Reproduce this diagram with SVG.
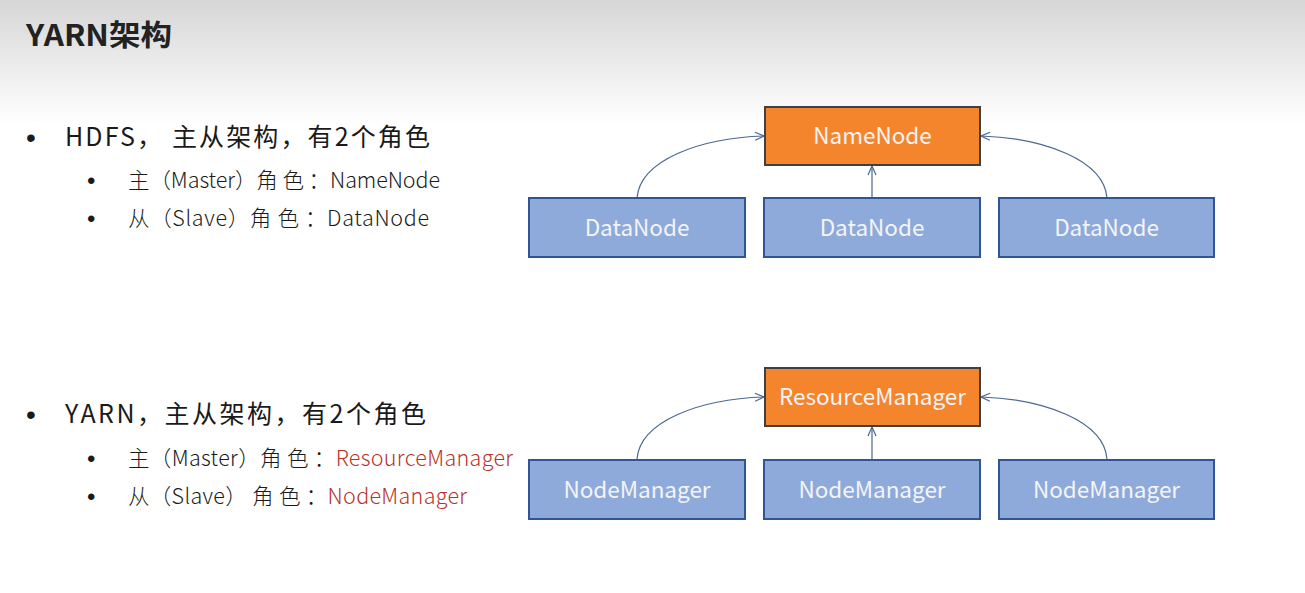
<svg xmlns="http://www.w3.org/2000/svg" width="1305" height="593" viewBox="0 0 1305 593">
<defs>
<linearGradient id="bg" x1="0" y1="0" x2="0" y2="1">
<stop offset="0" stop-color="#d6d6d6"/>
<stop offset="1" stop-color="#ffffff"/>
</linearGradient>
<marker id="arr" viewBox="0 0 10 10" refX="10" refY="5" markerWidth="10" markerHeight="10" markerUnits="userSpaceOnUse" orient="auto">
<path d="M1,1 L10,5 L1,9" fill="none" stroke="#4a6890" stroke-width="1.2"/>
</marker>
<style>
.title{font-family:"Noto Sans CJK SC","Liberation Sans",sans-serif;font-weight:bold;font-size:29px;fill:#222}
.l1{font-family:"Noto Sans CJK SC",sans-serif;font-size:25px;fill:#1a1a1a}
.l2{font-family:"Noto Sans CJK SC",sans-serif;font-weight:300;font-size:21.5px;fill:#1a1a1a}
.red{fill:#b8322a}
.dot{font-family:"Liberation Sans",sans-serif;fill:#1a1a1a}
.blue{fill:#8eaadb;stroke:#2f5597;stroke-width:2}
.orange{fill:#f5852d;stroke:#404040;stroke-width:2}
.nt{font-family:"Noto Sans CJK SC",sans-serif;font-size:22.5px;fill:#f4f4f4;text-anchor:middle}
.conn{fill:none;stroke:#4a6890;stroke-width:1.2;marker-end:url(#arr)}
</style>
</defs>
<rect x="0" y="0" width="1305" height="593" fill="#ffffff"/>
<rect x="0" y="0" width="1305" height="125" fill="url(#bg)"/>
<text class="title" x="26" y="46" textLength="146" lengthAdjust="spacingAndGlyphs">YARN架构</text>

<g id="text-hdfs">
<text class="dot" x="26" y="147" font-size="28">•</text>
<text class="l1" x="65" y="146" textLength="365" lengthAdjust="spacing">HDFS， 主从架构，有2个角色</text>
<text class="dot" x="87" y="189" font-size="24">•</text>
<text class="l2" x="128" y="188" textLength="312" lengthAdjust="spacing">主（Master）角 色 ：NameNode</text>
<text class="dot" x="87" y="227" font-size="24">•</text>
<text class="l2" x="128" y="226" textLength="301" lengthAdjust="spacing">从（Slave）角 色 ：DataNode</text>
</g>

<g id="text-yarn">
<text class="dot" x="26" y="424" font-size="28">•</text>
<text class="l1" x="65" y="423" textLength="361" lengthAdjust="spacing">YARN，主从架构，有2个角色</text>
<text class="dot" x="87" y="467" font-size="24">•</text>
<text class="l2" x="128" y="466" textLength="385" lengthAdjust="spacing">主（Master）角 色 ：<tspan class="red">ResourceManager</tspan></text>
<text class="dot" x="87" y="505" font-size="24">•</text>
<text class="l2" x="128" y="504" textLength="339" lengthAdjust="spacing">从（Slave） 角 色 ：<tspan class="red">NodeManager</tspan></text>
</g>

<g id="connectors">
<path class="conn" d="M637,198 C640,160 700,138 764,136"/>
<path class="conn" d="M872,198 L872,166"/>
<path class="conn" d="M1107,198 C1104,160 1044,138 981,136"/>
<path class="conn" d="M637,459 C640,421 700,399 764,397"/>
<path class="conn" d="M872,459 L872,427"/>
<path class="conn" d="M1107,459 C1104,421 1044,399 981,397"/>
</g>

<g id="namenode"><rect class="orange" x="765" y="107" width="215" height="58"/><text class="nt" x="872.5" y="144">NameNode</text></g>
<g id="datanode1"><rect class="blue" x="529" y="198" width="216" height="59"/><text class="nt" x="637" y="236">DataNode</text></g>
<g id="datanode2"><rect class="blue" x="764" y="198" width="216" height="59"/><text class="nt" x="872" y="236">DataNode</text></g>
<g id="datanode3"><rect class="blue" x="999" y="198" width="215" height="59"/><text class="nt" x="1106.5" y="236">DataNode</text></g>

<g id="resourcemanager"><rect class="orange" x="765" y="368" width="215" height="58"/><text class="nt" x="872.5" y="405">ResourceManager</text></g>
<g id="nodemanager1"><rect class="blue" x="529" y="460" width="216" height="59"/><text class="nt" x="637" y="498">NodeManager</text></g>
<g id="nodemanager2"><rect class="blue" x="764" y="460" width="216" height="59"/><text class="nt" x="872" y="498">NodeManager</text></g>
<g id="nodemanager3"><rect class="blue" x="999" y="460" width="215" height="59"/><text class="nt" x="1106.5" y="498">NodeManager</text></g>
</svg>
